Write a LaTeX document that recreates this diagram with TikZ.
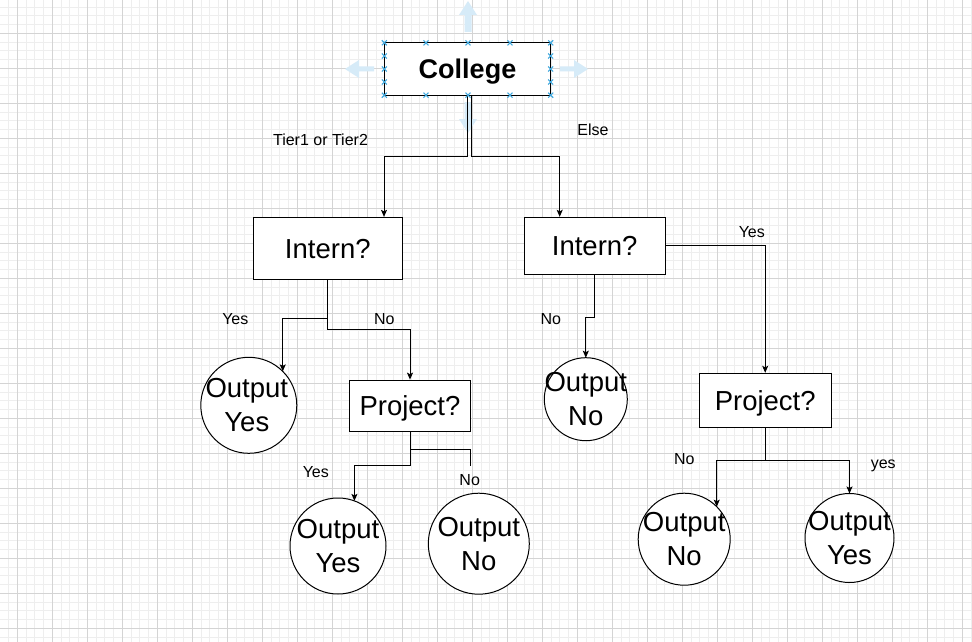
\documentclass[tikz,border=0pt]{standalone}
\usepackage{fontspec}
\setmainfont{Liberation Sans}
\usetikzlibrary{arrows.meta}
\definecolor{minorgrid}{RGB}{238,238,238}
\definecolor{majorgrid}{RGB}{212,212,212}
\definecolor{handleblue}{RGB}{64,168,222}
\definecolor{hintblue}{RGB}{214,235,248}
\definecolor{inkc}{RGB}{0,0,0}
\tikzset{
  boxnode/.style={draw=inkc, line width=1pt, fill=white, rectangle, inner sep=0pt,
    font=\fontsize{27.5}{34}\selectfont, text height=19.7pt, text depth=0pt},
  outc/.style={draw=inkc, line width=1pt, fill=white, circle, inner sep=0pt, outer sep=0pt},
  bigtxt/.style={font=\fontsize{27.5}{34}\selectfont, align=center, inner sep=0pt},
  lbl/.style={font=\fontsize{16}{18}\selectfont, text height=11.5pt, text depth=0pt, inner sep=0pt},
  conn/.style={draw=inkc, line width=1pt},
  arr/.style={conn, -{Stealth[length=7pt,width=6pt,inset=1.5pt]}},
  hmark/.style={draw=handleblue, line width=1.1pt},
  hint/.style={fill=hintblue, draw=none}
}
\begin{document}
\begin{tikzpicture}[x=1pt,y=-1pt]
\useasboundingbox (0,0) rectangle (972,642);
\fill[white] (0,0) rectangle (972,642);
% grid
\foreach \i in {0,...,111} \draw[minorgrid, line width=0.8pt] ({8.55+8.75*\i},0) -- ({8.55+8.75*\i},642);
\foreach \i in {0,...,73} \draw[minorgrid, line width=0.8pt] (0,{7.05+8.75*\i}) -- (972,{7.05+8.75*\i});
\foreach \i in {0,...,27} \draw[majorgrid, line width=0.9pt] ({17.3+35*\i},0) -- ({17.3+35*\i},642);
\foreach \i in {0,...,18} \draw[majorgrid, line width=0.9pt] (0,{33.3+35*(\i-1)}) -- (972,{33.3+35*(\i-1)});
% selection hint arrows (editor overlay)
\fill[hint] (468,1) -- (477,15) -- (471.5,15) -- (471.5,32) -- (464.5,32) -- (464.5,15) -- (459,15) -- cycle;
\fill[hint] (468,133) -- (477,119) -- (471.5,119) -- (471.5,102) -- (464.5,102) -- (464.5,119) -- (459,119) -- cycle;
\fill[hint] (345,69) -- (359,60) -- (359,66.5) -- (374,66.5) -- (374,71.5) -- (359,71.5) -- (359,78) -- cycle;
\fill[hint] (588,69) -- (574,60) -- (574,66.5) -- (560,66.5) -- (560,71.5) -- (574,71.5) -- (574,78) -- cycle;
% nodes
\node[boxnode, minimum width=166.4pt, minimum height=52.3pt, font=\fontsize{27}{34}\selectfont\bfseries] (col) at (467.5,69) {College};
\node[boxnode, minimum width=149pt, minimum height=61.7pt] (i1) at (327.8,248.2) {Intern?};
\node[boxnode, minimum width=140.7pt, minimum height=57pt] (i2) at (594.7,245.8) {Intern?};
\node[boxnode, minimum width=121.4pt, minimum height=51.7pt] (p1) at (410,406) {Project?};
\node[boxnode, minimum width=131.7pt, minimum height=54.4pt] (p2) at (765.2,400.5) {Project?};
\node[outc, minimum size=96pt, label={[bigtxt, xshift=-2pt]center:Output\\Yes}] (oy1) at (248.8,405.3) {};
\node[outc, minimum size=96pt, label={[bigtxt]center:Output\\Yes}] (oy2) at (338,546) {};
\node[outc, minimum size=101pt, label={[bigtxt]center:Output\\No}] (on2) at (478.8,543.7) {};
\node[outc, minimum size=83pt, label={[bigtxt]center:Output\\No}] (on1) at (585.8,399.2) {};
\node[outc, minimum size=92pt, label={[bigtxt]center:Output\\No}] (on3) at (684.2,539.2) {};
\node[outc, minimum size=89pt, label={[bigtxt]center:Output\\Yes}] (oy3) at (849.5,538) {};
\coordinate (p1end) at (470,466);
% connectors
\draw[arr] (col.south) -- ++(0,61) -| ([xshift=56.2pt]i1.north);
\draw[arr] ([xshift=4pt]col.south) -- ++(0,61) -| ([xshift=-35pt]i2.north);
\draw[arr] (i1.south) -- ++(0,39.3) -| (oy1.45);
\draw[arr] (i1.south) -- ++(0,50) -| (p1.north);
\draw[arr] (p1.south) -- ++(0,33) -| (oy2.70);
\draw[conn] (p1.south) -- ++(0,17.5) -| (p1end);
\draw[arr] (i2.south) -- ++(0,42.4) -| (on1.north);
\draw[arr] (i2.east) -| (p2.north);
\draw[arr] (p2.south) -- ++(0,32.3) -| (on3.45);
\draw[arr] (p2.south) -- ++(0,32.3) -| (oy3.north);
% edge labels
\node[lbl] (lt) at (320.5,139.5) {Tier1 or Tier2};
\node[lbl] (le) at (593,130) {Else};
\node[lbl] (l1) at (235.3,318.5) {Yes};
\node[lbl] (l2) at (384.3,318.5) {No};
\node[lbl] (l3) at (315.8,471.7) {Yes};
\node[lbl] (l4) at (469.7,480) {No};
\node[lbl] (l5) at (550.8,318.3) {No};
\node[lbl] (l6) at (751.8,231.7) {Yes};
\node[lbl] (l7) at (684.3,458.3) {No};
\node[lbl] (l8) at (883.2,462.7) {yes};
% selection handles on College
\foreach \hx in {384.3,426,468,510,550.7} {
  \foreach \hy in {42.8,95.2} {
    \draw[hmark] (\hx-2.5,\hy-2.5) -- (\hx+2.5,\hy+2.5) (\hx-2.5,\hy+2.5) -- (\hx+2.5,\hy-2.5);
  }
}
\foreach \hx in {384.3,550.7} {
  \foreach \hy in {56,69,82} {
    \draw[hmark] (\hx-2.5,\hy-2.5) -- (\hx+2.5,\hy+2.5) (\hx-2.5,\hy+2.5) -- (\hx+2.5,\hy-2.5);
  }
}
\end{tikzpicture}
\end{document}
